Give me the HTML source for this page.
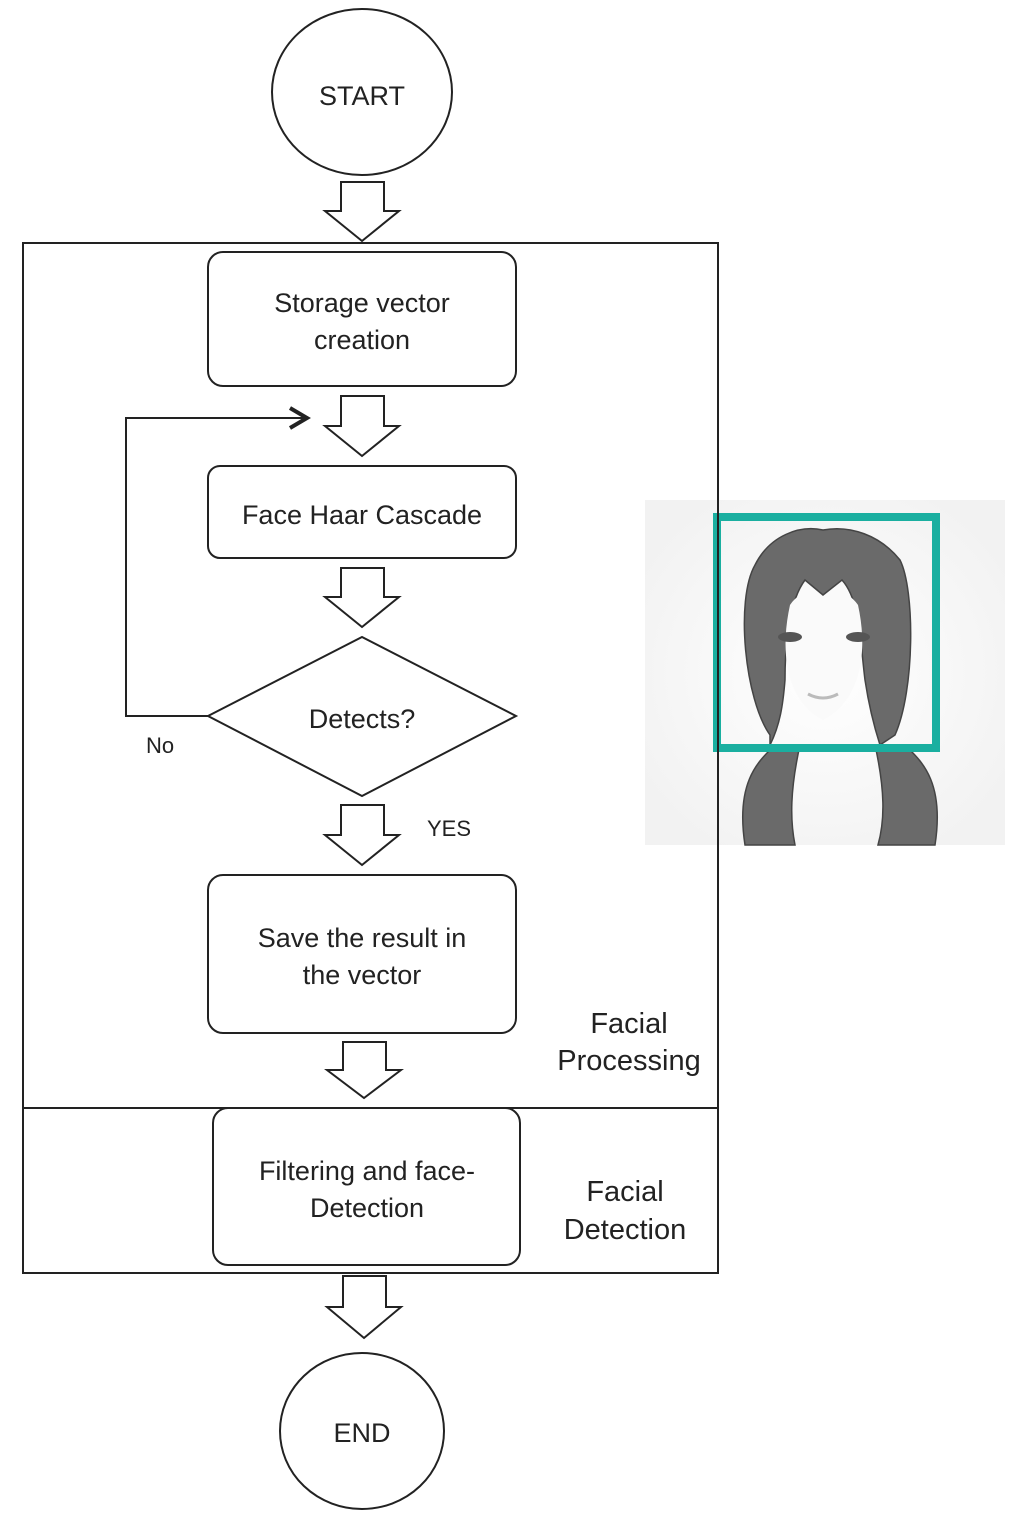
<!DOCTYPE html>
<html><head><meta charset="utf-8"><style>
html,body{margin:0;padding:0;background:#fff;}
svg{display:block;}
text{font-family:"Liberation Sans",sans-serif;fill:#222;}
</style></head><body>
<svg width="1024" height="1525" viewBox="0 0 1024 1525" xmlns="http://www.w3.org/2000/svg">
<defs>
<radialGradient id="bg" cx="50%" cy="50%" r="60%"><stop offset="0" stop-color="#fff"/><stop offset="1" stop-color="#f2f2f2"/></radialGradient>
</defs>
<rect x="645" y="500" width="360" height="345" fill="url(#bg)"/>
<g fill="#6a6a6a" stroke="#444" stroke-width="1.5">
<path d="M745 845 C735 780 760 760 775 745 L800 745 C790 790 790 820 795 845 Z"/>
<path d="M935 845 C945 780 920 760 905 745 L875 745 C885 790 885 820 878 845 Z"/>
<path d="M770 735 C745 700 735 600 755 565 C770 535 800 525 823 530 C850 525 880 535 900 560 C915 590 915 690 895 735 L880 745 C872 720 868 700 865 680 C860 640 860 600 842 580 L823 595 L805 580 C790 600 785 640 785 680 C783 705 780 725 770 745 Z"/>
</g>
<path d="M790 605 C800 590 815 590 823 597 C832 590 848 590 858 605 C868 650 862 700 823 720 C785 700 780 650 790 605 Z" fill="#fafafa"/>
<ellipse cx="790" cy="637" rx="12" ry="5" fill="#555"/>
<ellipse cx="858" cy="637" rx="12" ry="5" fill="#555"/>
<path d="M808 694 Q823 702 838 694" stroke="#bbb" stroke-width="3" fill="none"/>
<rect x="717" y="517" width="219" height="231" fill="none" stroke="#1aafa0" stroke-width="8"/>

<g fill="none" stroke="#222" stroke-width="2">
<rect x="23" y="243" width="695" height="1030" fill="none"/>
<line x1="718" y1="243" x2="718" y2="1273"/>
<line x1="23" y1="1108" x2="718" y2="1108"/>
<ellipse cx="362" cy="92" rx="90" ry="83" fill="#fff"/>
<ellipse cx="362" cy="1431" rx="82" ry="78" fill="#fff"/>
<rect x="208" y="252" width="308" height="134" rx="15" fill="#fff"/>
<rect x="208" y="466" width="308" height="92" rx="12" fill="#fff"/>
<polygon points="208,716 362,637 516,716 362,796" fill="#fff"/>
<rect x="208" y="875" width="308" height="158" rx="15" fill="#fff"/>
<rect x="213" y="1108" width="307" height="157" rx="15" fill="#fff"/>
<polyline points="208,716 126,716 126,418 305,418"/>
<polyline points="290,408 307,418 290,428" stroke-width="4"/>
<path d="M341 182 H384 V211 H399 L362 241 L325 211 H341 Z" fill="#fff"/>
<path d="M341 396 H384 V426 H399 L362 456 L325 426 H341 Z" fill="#fff"/>
<path d="M341 568 H384 V597 H399 L362 627 L325 597 H341 Z" fill="#fff"/>
<path d="M341 805 H384 V835 H399 L362 865 L325 835 H341 Z" fill="#fff"/>
<path d="M343 1042 H386 V1070 H401 L364 1098 L327 1070 H343 Z" fill="#fff"/>
<path d="M343 1276 H386 V1307 H401 L364 1338 L327 1307 H343 Z" fill="#fff"/>
</g>
<g font-size="27" text-anchor="middle">
<text x="362" y="105">START</text>
<text x="362" y="312">Storage vector</text>
<text x="362" y="349">creation</text>
<text x="362" y="524">Face Haar Cascade</text>
<text x="362" y="728">Detects?</text>
<text x="362" y="947">Save the result in</text>
<text x="362" y="984">the vector</text>
<text x="367" y="1180">Filtering and face-</text>
<text x="367" y="1217">Detection</text>
<text x="362" y="1442">END</text>
<text x="629" y="1033" font-size="29">Facial</text>
<text x="629" y="1070" font-size="29">Processing</text>
<text x="625" y="1201" font-size="29">Facial</text>
<text x="625" y="1239" font-size="29">Detection</text>
</g>
<text x="146" y="753" font-size="22">No</text>
<text x="427" y="836" font-size="22">YES</text>
</svg>
</body></html>
